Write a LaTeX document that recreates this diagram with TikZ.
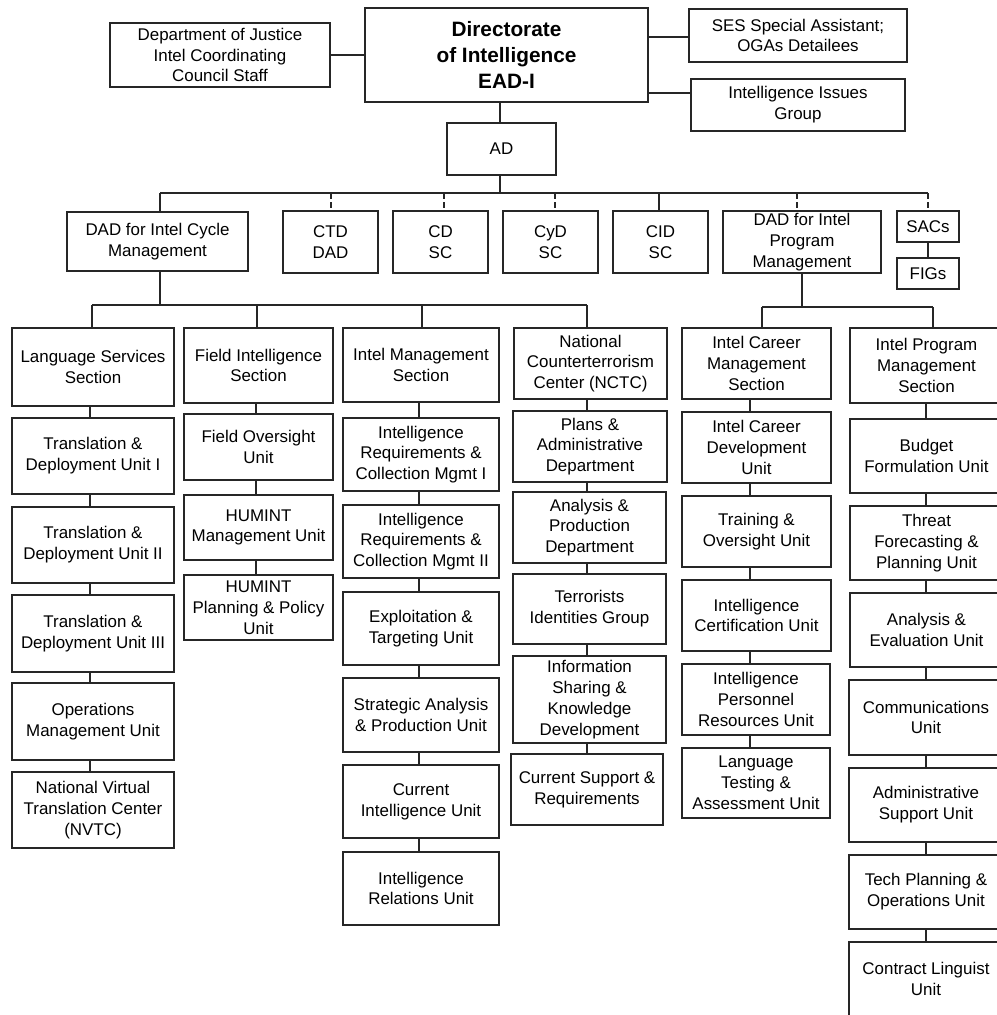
\documentclass[tikz,border=0pt]{standalone}
\usepackage{fontspec}
\setmainfont{Liberation Sans}
\begin{document}
\begin{tikzpicture}[x=0.75pt,y=-0.75pt,
  box/.style={draw=black!85, line width=0.8pt, fill=white, inner sep=0pt, align=center,
    font=\fontsize{12.7}{15.6}\selectfont},
  conn/.style={draw=black!85, line width=0.8pt},
  dconn/.style={conn, dash pattern=on 4.5pt off 2.25pt}]
\newcommand\bx[6]{\node[box, minimum width={(#4-#2)*0.75pt}, minimum height={(#5-#3)*0.75pt}] (#1) at ({(#2+#4)/2},{(#3+#5)/2}) {#6};}
\useasboundingbox (0,0) rectangle (997,1015);
% top
\bx{doj}{110}{23}{330}{87}{Department of Justice\\Intel Coordinating\\Council Staff}
\node[box, minimum width={283*0.75pt}, minimum height={94*0.75pt},
  font=\fontsize{15.6}{19.5}\selectfont\bfseries] (dir) at (506.5,55) {Directorate\\of Intelligence\\EAD-I};
\bx{ses}{689}{9}{907}{62}{SES Special Assistant;\\OGAs Detailees}
\bx{iig}{691}{79}{905}{131}{Intelligence Issues\\Group}
\bx{ad}{447}{123}{556}{175}{AD}
% second row
\bx{dadc}{67}{212}{248}{271}{DAD for Intel Cycle\\Management}
\bx{ctd}{283}{211}{378}{273}{CTD\\DAD}
\bx{cd}{393}{211}{488}{273}{CD\\SC}
\bx{cyd}{503}{211}{598}{273}{CyD\\SC}
\bx{cid}{613}{211}{708}{273}{CID\\SC}
\bx{dadp}{723}{211}{881}{273}{DAD for Intel\\Program\\Management}
\bx{sacs}{897}{211}{959}{242}{SACs}
\bx{figs}{897}{258}{959}{289}{FIGs}
% column 1
\bx{lss}{12}{328}{174}{406}{Language Services\\Section}
\bx{td1}{12}{418}{174}{494}{Translation \&\\Deployment Unit I}
\bx{td2}{12}{507}{174}{583}{Translation \&\\Deployment Unit II}
\bx{td3}{12}{595}{174}{672}{Translation \&\\Deployment Unit III}
\bx{omu}{12}{683}{174}{760}{Operations\\Management Unit}
\bx{nvtc}{12}{772}{174}{848}{National Virtual\\Translation Center\\(NVTC)}
% column 2
\bx{fis}{184}{328}{333}{403}{Field Intelligence\\Section}
\bx{fou}{184}{414}{333}{480}{Field Oversight\\Unit}
\bx{hmu}{184}{495}{333}{560}{HUMINT\\Management Unit}
\bx{hpp}{184}{575}{333}{640}{HUMINT\\Planning \& Policy\\Unit}
% column 3
\bx{ims}{343}{328}{499}{402}{Intel Management\\Section}
\bx{ir1}{343}{418}{499}{491}{Intelligence\\Requirements \&\\Collection Mgmt I}
\bx{ir2}{343}{505}{499}{578}{Intelligence\\Requirements \&\\Collection Mgmt II}
\bx{etu}{343}{592}{499}{665}{Exploitation \&\\Targeting Unit}
\bx{sap}{343}{678}{499}{752}{Strategic Analysis\\\& Production Unit}
\bx{ciu}{343}{765}{499}{838}{Current\\Intelligence Unit}
\bx{iru}{343}{852}{499}{925}{Intelligence\\Relations Unit}
% column 4
\bx{nctc}{514}{328}{667}{399}{National\\Counterterrorism\\Center (NCTC)}
\bx{pad}{513}{411}{667}{482}{Plans \&\\Administrative\\Department}
\bx{apd}{513}{492}{666}{563}{Analysis \&\\Production\\Department}
\bx{tig}{513}{574}{666}{644}{Terrorists\\Identities Group}
\bx{isk}{513}{656}{666}{743}{Information\\Sharing \&\\Knowledge\\Development}
\bx{csr}{511}{754}{663}{825}{Current Support \&\\Requirements}
% column 5
\bx{icm}{682}{328}{831}{399}{Intel Career\\Management\\Section}
\bx{icd}{682}{412}{831}{483}{Intel Career\\Development\\Unit}
\bx{tou}{682}{496}{831}{567}{Training \&\\Oversight Unit}
\bx{icu}{682}{580}{831}{651}{Intelligence\\Certification Unit}
\bx{ipr}{682}{664}{830}{735}{Intelligence\\Personnel\\Resources Unit}
\bx{lta}{682}{748}{830}{818}{Language\\Testing \&\\Assessment Unit}
% column 6
\bx{ipm}{850}{328}{1003}{403}{Intel Program\\Management\\Section}
\bx{bfu}{850}{419}{1003}{493}{Budget\\Formulation Unit}
\bx{tfp}{850}{506}{1003}{580}{Threat\\Forecasting \&\\Planning Unit}
\bx{aeu}{850}{593}{1003}{667}{Analysis \&\\Evaluation Unit}
\bx{com}{849}{680}{1003}{755}{Communications\\Unit}
\bx{asu}{849}{768}{1003}{842}{Administrative\\Support Unit}
\bx{tpo}{849}{855}{1003}{929}{Tech Planning \&\\Operations Unit}
\bx{clu}{849}{942}{1003}{1016}{Contract Linguist\\Unit}
% helper coordinates
\coordinate (cAD) at (500,193);
\coordinate (sesy) at (0,37);
\coordinate (dojy) at (0,55);
\coordinate (iigy) at (0,93);
\coordinate (b1) at (160,193);
\coordinate (b2) at (331,193);
\coordinate (b3) at (444,193);
\coordinate (b4) at (555,193);
\coordinate (b5) at (659,193);
\coordinate (b6) at (797,193);
\coordinate (b7) at (928,193);
\coordinate (sl) at (160,305);
\coordinate (s1) at (92,305);
\coordinate (s2) at (257,305);
\coordinate (s3) at (422,305);
\coordinate (s4) at (587,305);
\coordinate (sr) at (802,307);
\coordinate (r1) at (762,307);
\coordinate (r2) at (933,307);
\coordinate (k1) at (90,0);
\coordinate (k2) at (256,0);
\coordinate (k3) at (419,0);
\coordinate (k4) at (587,0);
\coordinate (k5) at (750,0);
\coordinate (k6) at (926,0);
% top connectors
\draw[conn] (doj.east |- dojy) -- (dir.west |- dojy);
\draw[conn] (dir.east |- sesy) -- (ses.west |- sesy);
\draw[conn] (dir.east |- iigy) -- (iig.west |- iigy);
\draw[conn] (dir.south -| cAD) -- (ad.north -| cAD);
\draw[conn] (ad.south -| cAD) -- (cAD);
\draw[conn] (b1) -- (b7);
\draw[conn] (b1) -- (dadc.north -| b1);
\draw[dconn] (b2) -- (ctd.north -| b2);
\draw[dconn] (b3) -- (cd.north -| b3);
\draw[dconn] (b4) -- (cyd.north -| b4);
\draw[conn] (b5) -- (cid.north -| b5);
\draw[dconn] (b6) -- (dadp.north -| b6);
\draw[dconn] (b7) -- (sacs.north -| b7);
\draw[conn] (sacs.south -| b7) -- (figs.north -| b7);
% left sub-bus
\draw[conn] (dadc.south -| sl) -- (sl);
\draw[conn] (s1) -- (s4);
\draw[conn] (s1) -- (lss.north -| s1);
\draw[conn] (s2) -- (fis.north -| s2);
\draw[conn] (s3) -- (ims.north -| s3);
\draw[conn] (s4) -- (nctc.north -| s4);
% right sub-bus
\draw[conn] (dadp.south -| sr) -- (sr);
\draw[conn] (r1) -- (r2);
\draw[conn] (r1) -- (icm.north -| r1);
\draw[conn] (r2) -- (ipm.north -| r2);
% columns
\foreach \a/\b in {lss/td1,td1/td2,td2/td3,td3/omu,omu/nvtc}
  \draw[conn] (\a.south -| k1) -- (\b.north -| k1);
\foreach \a/\b in {fis/fou,fou/hmu,hmu/hpp}
  \draw[conn] (\a.south -| k2) -- (\b.north -| k2);
\foreach \a/\b in {ims/ir1,ir1/ir2,ir2/etu,etu/sap,sap/ciu,ciu/iru}
  \draw[conn] (\a.south -| k3) -- (\b.north -| k3);
\foreach \a/\b in {nctc/pad,pad/apd,apd/tig,tig/isk,isk/csr}
  \draw[conn] (\a.south -| k4) -- (\b.north -| k4);
\foreach \a/\b in {icm/icd,icd/tou,tou/icu,icu/ipr,ipr/lta}
  \draw[conn] (\a.south -| k5) -- (\b.north -| k5);
\foreach \a/\b in {ipm/bfu,bfu/tfp,tfp/aeu,aeu/com,com/asu,asu/tpo,tpo/clu}
  \draw[conn] (\a.south -| k6) -- (\b.north -| k6);
\end{tikzpicture}
\end{document}
